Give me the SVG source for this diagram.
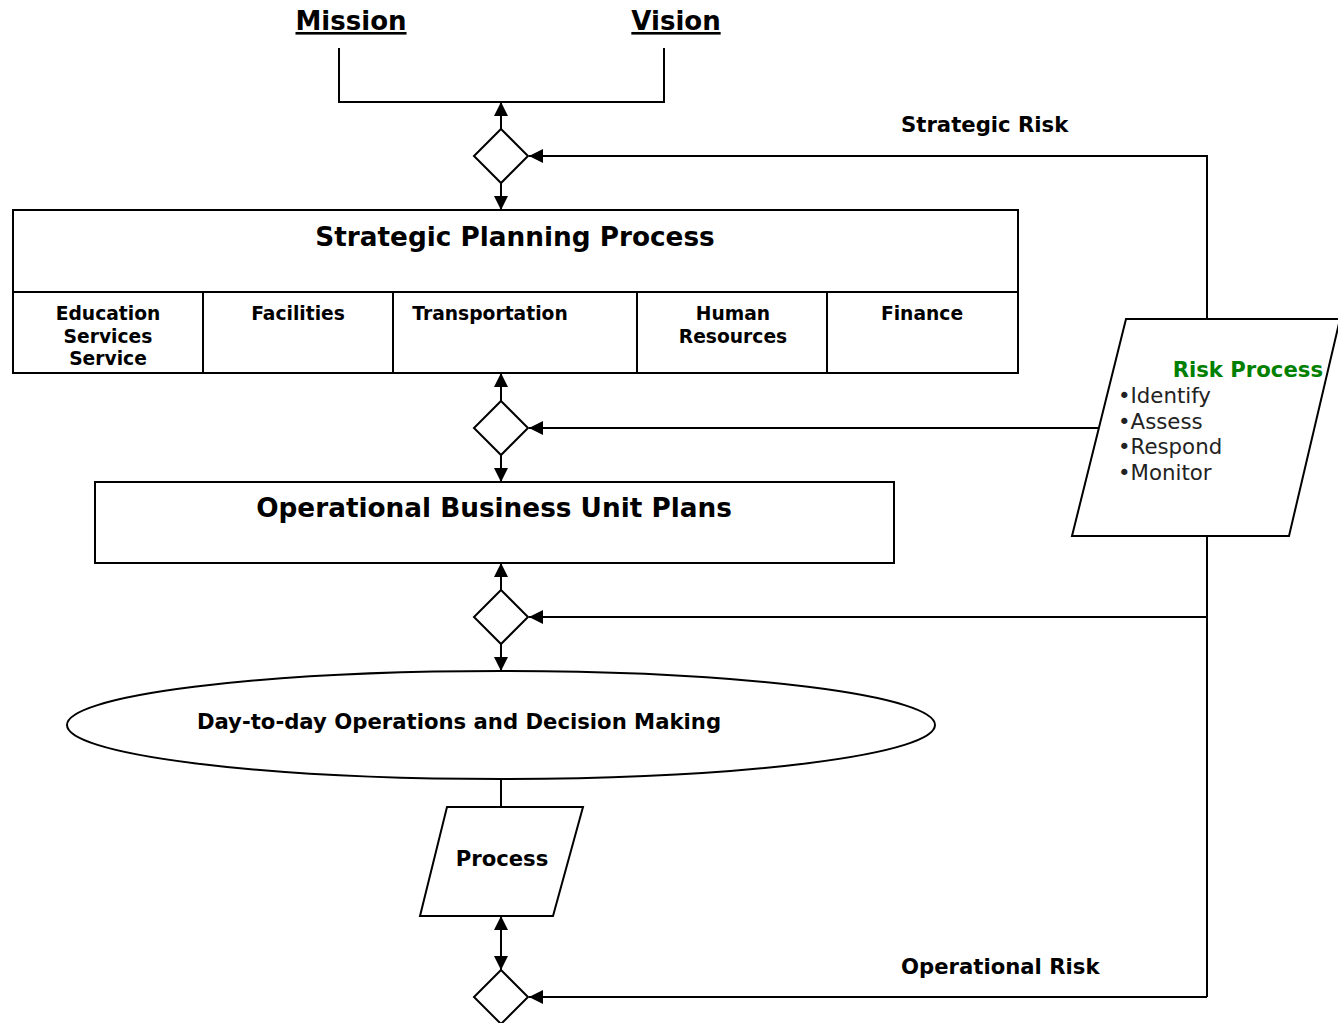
<svg xmlns="http://www.w3.org/2000/svg" width="1338" height="1023" viewBox="0 0 1338 1023">
<style>
text{font-family:"DejaVu Sans","Verdana",sans-serif;font-weight:bold;fill:#000}
.shape{fill:#fff;stroke:#000;stroke-width:2}
.ln{fill:none;stroke:#000;stroke-width:2}
.title{font-size:26.3px}
.col{font-size:18.7px}
.lbl{font-size:21.2px}
.item{font-size:21.3px;font-weight:normal;fill:#222}
</style>
<defs>
<marker id="ah" viewBox="0 0 14 14" refX="14" refY="7" markerWidth="14" markerHeight="14" markerUnits="userSpaceOnUse" orient="auto-start-reverse">
<path d="M0,0 L14,7 L0,14 Z" fill="#000"/>
</marker>
</defs>
<rect width="1338" height="1023" fill="#fff"/>
<g id="connectors">
<path class="ln" d="M339,48 V102 H664 V48"/>
<path class="ln" d="M501,129 V102" marker-end="url(#ah)"/>
<path class="ln" d="M501,183 V210" marker-end="url(#ah)"/>
<path class="ln" d="M1207,319 V156 H529" marker-end="url(#ah)"/>
<path class="ln" d="M501,401 V373" marker-end="url(#ah)"/>
<path class="ln" d="M501,455 V482" marker-end="url(#ah)"/>
<path class="ln" d="M1101,428 H529" marker-end="url(#ah)"/>
<path class="ln" d="M501,590 V563" marker-end="url(#ah)"/>
<path class="ln" d="M501,644 V671" marker-end="url(#ah)"/>
<path class="ln" d="M1207,536 V997"/>
<path class="ln" d="M1207,617 H529" marker-end="url(#ah)"/>
<path class="ln" d="M501,779 V807"/>
<path class="ln" d="M501,916 V970" marker-start="url(#ah)" marker-end="url(#ah)"/>
<path class="ln" d="M1207,997 H529" marker-end="url(#ah)"/>
</g>
<g id="mission"><text x="351" y="30" text-anchor="middle" font-size="26" text-decoration="underline">Mission</text></g>
<g id="vision"><text x="676" y="30" text-anchor="middle" font-size="26" text-decoration="underline">Vision</text></g>
<g id="label-strategic-risk"><text class="lbl" x="901" y="132">Strategic Risk</text></g>
<g id="label-operational-risk"><text class="lbl" x="901" y="974">Operational Risk</text></g>
<g id="decision1"><path class="shape" d="M501,129 L528,156 L501,183 L474,156 Z"/></g>
<g id="decision2"><path class="shape" d="M501,401 L528,428 L501,455 L474,428 Z"/></g>
<g id="decision3"><path class="shape" d="M501,590 L528,617 L501,644 L474,617 Z"/></g>
<g id="decision4"><path class="shape" d="M501,970 L528,997 L501,1024 L474,997 Z"/></g>
<g id="strategic-planning">
<rect class="shape" x="13" y="210" width="1005" height="163"/>
<line class="ln" x1="13" y1="292" x2="1018" y2="292"/>
<line class="ln" x1="203" y1="292" x2="203" y2="373"/>
<line class="ln" x1="393" y1="292" x2="393" y2="373"/>
<line class="ln" x1="637" y1="292" x2="637" y2="373"/>
<line class="ln" x1="827" y1="292" x2="827" y2="373"/>
<text class="title" x="515" y="246" text-anchor="middle">Strategic Planning Process</text>
<text class="col" text-anchor="middle"><tspan x="108" y="320">Education</tspan><tspan x="108" y="343">Services</tspan><tspan x="108" y="365">Service</tspan></text>
<text class="col" x="298" y="320" text-anchor="middle">Facilities</text>
<text class="col" x="490" y="320" text-anchor="middle">Transportation</text>
<text class="col" text-anchor="middle"><tspan x="733" y="320">Human</tspan><tspan x="733" y="343">Resources</tspan></text>
<text class="col" x="922" y="320" text-anchor="middle">Finance</text>
</g>
<g id="operational-plans">
<rect class="shape" x="95" y="482" width="799" height="81"/>
<text class="title" x="494" y="517" text-anchor="middle">Operational Business Unit Plans</text>
</g>
<g id="day-to-day">
<ellipse class="shape" cx="501" cy="725" rx="434" ry="54"/>
<text class="lbl" x="459" y="729" text-anchor="middle">Day-to-day Operations and Decision Making</text>
</g>
<g id="process">
<path class="shape" d="M447,807 L583,807 L553,916 L420,916 Z"/>
<text class="lbl" x="502" y="866" text-anchor="middle">Process</text>
</g>
<g id="risk-process">
<path class="shape" d="M1126,319 L1340,319 L1289,536 L1072,536 Z"/>
<text class="lbl" x="1323" y="377" text-anchor="end" style="fill:#008000">Risk Process</text>
<text class="item"><tspan x="1118" y="403">•Identify</tspan><tspan x="1118" y="429">•Assess</tspan><tspan x="1118" y="454">•Respond</tspan><tspan x="1118" y="480">•Monitor</tspan></text>
</g>
</svg>
